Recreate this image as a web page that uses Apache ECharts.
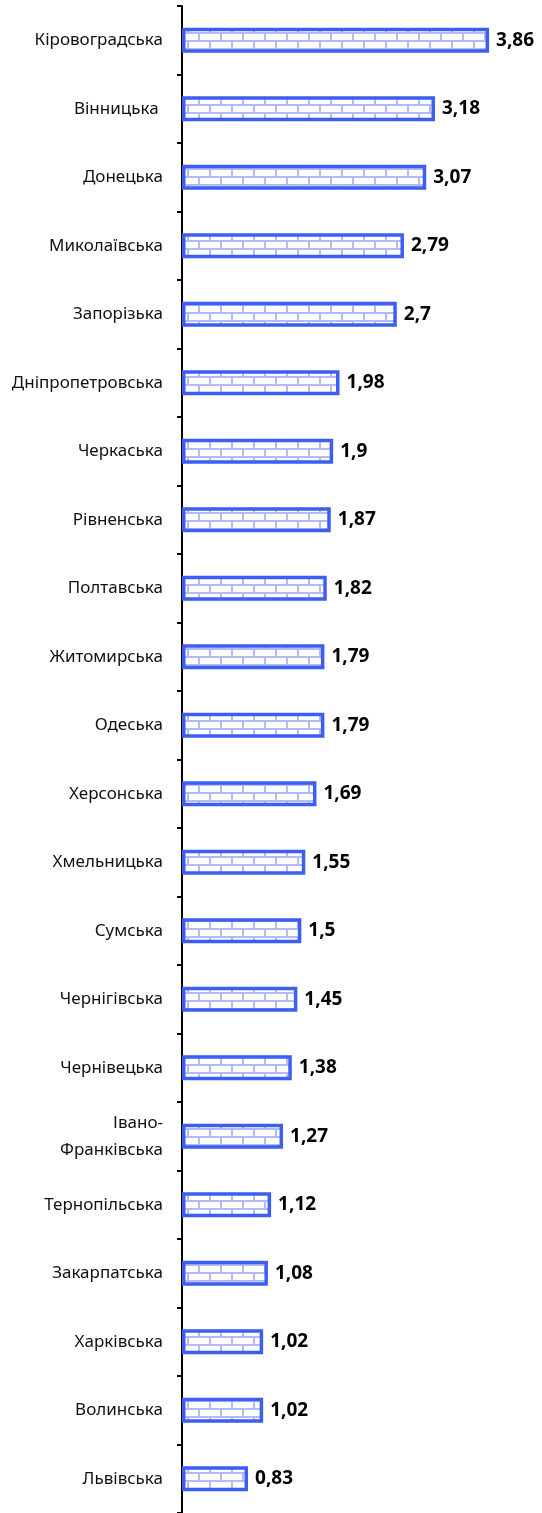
<!DOCTYPE html>
<html>
<head>
<meta charset="utf-8">
<script src="https://cdn.jsdelivr.net/npm/echarts@6/dist/echarts.min.js"></script>
<style>
  html, body { margin: 0; padding: 0; background: #fff; }
  #chart { width: 542px; height: 1513px; }
</style>
</head>
<body>
<div id="chart"></div>
<script>
// області (зверху вниз)
const regions = [
  'Кіровоградська', 'Вінницька ', 'Донецька', 'Миколаївська', 'Запорізька',
  'Дніпропетровська', 'Черкаська', 'Рівненська', 'Полтавська', 'Житомирська',
  'Одеська', 'Херсонська', 'Хмельницька', 'Сумська', 'Чернігівська',
  'Чернівецька', 'Івано-\nФранківська', 'Тернопільська', 'Закарпатська',
  'Харківська', 'Волинська', 'Львівська'
]
const values = [
  3.86, 3.18, 3.07, 2.79, 2.7,
  1.98, 1.9, 1.87, 1.82, 1.79,
  1.79, 1.69, 1.55, 1.5, 1.45,
  1.38, 1.27, 1.12, 1.08,
  1.02, 1.02, 0.83
]

// цегляний візерунок для заливки
function brickPattern() {
  const c = document.createElement('canvas')
  c.width = 22
  c.height = 16
  const ctx = c.getContext('2d')
  ctx.fillStyle = '#ffffff'
  ctx.fillRect(0, 0, 22, 16)
  ctx.fillStyle = '#b3bbf6'
  ctx.fillRect(0, 0, 22, 2)
  ctx.fillRect(0, 8, 22, 2)
  ctx.fillRect(0, 0, 2, 8)
  ctx.fillRect(11, 8, 2, 8)
  return c
}

const chart = echarts.init(document.getElementById('chart'))
chart.setOption({
  animation: false,
  grid: { left: 182, top: 6, width: 358, height: 1509 },
  xAxis: {
    type: 'value', min: 0, max: 4.5, show: false
  },
  yAxis: {
    type: 'category',
    data: regions,
    inverse: true,
    axisLine: { show: true, lineStyle: { color: '#000', width: 2 } },
    axisTick: { show: true, length: 5, lineStyle: { color: '#000', width: 2 } },
    axisLabel: {
      margin: 19, color: '#111', fontSize: 17, lineHeight: 27,
      fontFamily: 'Noto Sans'
    }
  },
  series: [{
    type: 'bar',
    data: values,
    barWidth: 25,
    itemStyle: {
      color: { image: brickPattern(), repeat: 'repeat' },
      borderColor: '#3d5ef2',
      borderWidth: 3.5
    },
    label: {
      show: true,
      position: 'right',
      distance: 7,
      color: '#000',
      fontWeight: 'bold',
      fontSize: 19,
      fontFamily: 'Noto Sans',
      formatter: p => String(p.value).replace('.', ',')
    }
  }]
})
</script>
</body>
</html>
